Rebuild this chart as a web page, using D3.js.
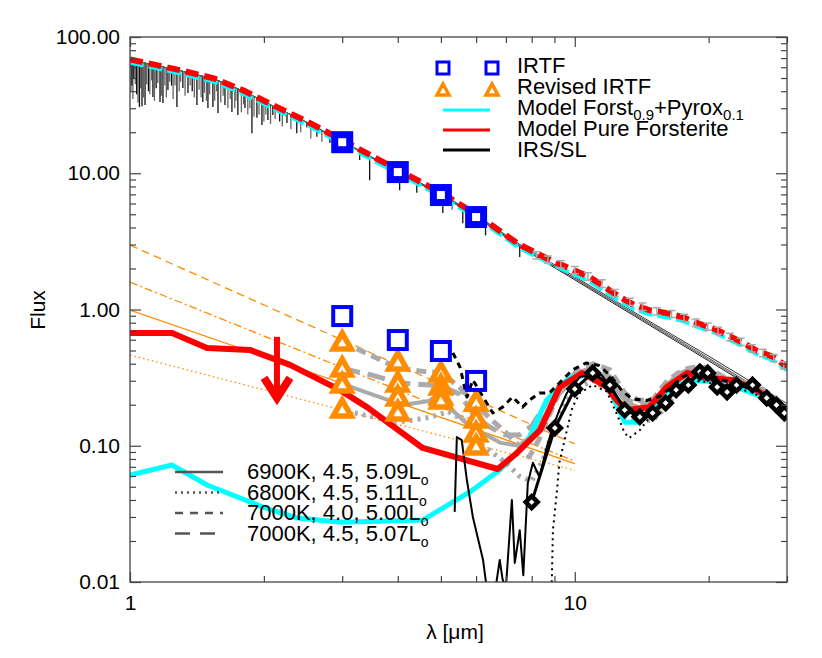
<!DOCTYPE html>
<html>
<head>
  <meta charset="UTF-8">
  <title>Flux SED</title>
  <script src="https://d3js.org/d3.v7.min.js"></script>
  <style>
    body { margin: 0; background: #fff; }
    text { font-family: "Liberation Sans", Arial, sans-serif; fill: #000; }
  </style>
</head>
<body>
<svg id="chart" width="822" height="658"></svg>
<script>

// ---- data (wavelength in micron, flux) ----

// photosphere models (4 fits)
const photoL = [1, 1.1, 1.3, 1.55, 1.8, 2.1, 2.5, 3, 4, 5, 6, 7.5, 10, 15, 20, 30];
const photoA = [68, 63.5, 56.5, 49, 40, 31, 23.5, 17, 10.2, 6.9, 4.8, 2.9, 1.65, 0.74, 0.42, 0.186];
const photoB = [68, 63.5, 56.5, 49, 40, 31, 23.6, 17.1, 10.3, 7.0, 4.87, 2.96, 1.70, 0.77, 0.44, 0.195];
const photoC = [68, 63.5, 56.5, 49, 40, 31, 23.7, 17.2, 10.4, 7.1, 4.95, 3.02, 1.74, 0.79, 0.455, 0.204];
const photoD = [68, 63.5, 56.5, 49, 40, 31, 23.5, 17.0, 10.25, 6.95, 4.84, 2.93, 1.68, 0.755, 0.43, 0.19];

// absorption lines in the stellar spectrum (line centre, flux at line bottom)
const lineL = [1.01, 1.02, 1.035, 1.05, 1.064, 1.081, 1.1, 1.126, 1.145, 1.168, 1.186, 1.217, 1.24, 1.275, 1.315, 1.35,
               1.38, 1.414, 1.458, 1.497, 1.536, 1.577, 1.635, 1.695, 1.748, 1.813, 1.88, 1.929, 1.98, 2.042, 2.095,
               2.17, 2.254, 2.371, 2.498, 2.631, 2.815, 3.12, 3.284, 3.458, 3.74, 4.039, 4.413, 5.05, 5.6, 6.3, 7.52];
const lineV = [44, 50, 38, 30.6, 31, 31.7, 40, 36.3, 42, 33.3, 32.8, 40.8, 44, 30.6, 42.2, 38.8,
               40, 31.7, 33.3, 30.1, 30.6, 27.7, 31.7, 28.2, 26.8, 30.1, 19.7, 25.5, 22.6, 24.6, 26.8,
               24, 23.4, 19.7, 21.8, 18.5, 16.7, 14.8, 12.5, 8.9, 11, 7.5, 7.2, 5.1, 4.3, 3.5, 2.43];
// weaker lines (drawn gray)
const weakL = [1.005, 1.015, 1.028, 1.042, 1.057, 1.072, 1.09, 1.108, 1.118, 1.135, 1.155, 1.176, 1.198, 1.207, 1.228,
               1.25, 1.262, 1.29, 1.30, 1.33, 1.365, 1.395, 1.43, 1.445, 1.47, 1.485, 1.51, 1.55, 1.565, 1.6, 1.62,
               1.66, 1.68, 1.72, 1.73, 1.78, 1.8, 1.84, 1.86, 1.9, 1.95, 2.0, 2.02, 2.07, 2.12, 2.2, 2.3, 2.42,
               2.55, 2.7, 2.9, 3.0, 3.6, 4.2, 4.8, 5.3];
const weakV = [40, 35, 45, 33, 42, 36, 45, 38, 48, 34, 46, 37, 44, 36, 47,
               35, 44, 40, 47, 37, 44, 36, 41, 36, 39, 34, 38, 34, 40, 33, 37,
               30, 35, 30, 34, 28, 32, 27, 30, 26, 27, 24, 27, 23, 25, 22, 21, 20,
               18, 17, 15, 15.5, 12, 8.5, 6.4, 5.4];

// photosphere + dust models (top)
const totL = [1, 1.1, 1.3, 1.55, 1.8, 2.1, 2.5, 3, 4, 5, 6, 7.5, 8.8, 10.8, 12.6, 13.6, 14.7, 16.1, 17.5, 18.8, 20.8, 23.9, 25.6, 27.9, 30];
const totForst = [68.5, 64, 57, 49.5, 40.5, 31.5, 24, 17.5, 10.6, 7.2, 5.0, 3.0, 2.31, 1.73, 1.24, 1.08, 0.99, 0.94, 0.88, 0.80, 0.71, 0.57, 0.50, 0.45, 0.38];
const totMix = [67, 62.8, 55.8, 48.3, 39.5, 30.8, 23.4, 17.0, 10.3, 7.0, 4.87, 2.93, 2.25, 1.66, 1.19, 1.04, 0.955, 0.905, 0.85, 0.775, 0.69, 0.555, 0.487, 0.44, 0.37];

// IRS points with errors (top)
const irsL = [8.2, 8.7, 9.3, 10.0, 10.7, 11.5, 12.3, 13.3, 14.2, 15.3, 16.5, 17.6, 18.7, 19.9, 21.0, 22.3, 23.6, 25.0, 26.5, 28.0, 29.5];
const irsV = [2.5, 2.33, 2.15, 1.95, 1.75, 1.55, 1.32, 1.14, 1.05, 0.97, 0.93, 0.87, 0.80, 0.75, 0.70, 0.63, 0.58, 0.52, 0.48, 0.44, 0.39];
const irsE = [0.15, 0.14, 0.13, 0.12, 0.11, 0.1, 0.08, 0.07, 0.065, 0.06, 0.055, 0.052, 0.05, 0.045, 0.042, 0.04, 0.035, 0.032, 0.03, 0.027, 0.024];

// power-law fits to the excess
const fitL = [1, 10];
const fitDash = [2.97, 0.103];
const fitDashDot = [1.59, 0.077];
const fitSolid = [0.99, 0.074];
const fitDot = [0.463, 0.066];

// dust models (excess)
const forstL = [1.0, 1.243, 1.49, 1.86, 2.29, 2.96, 3.41, 4.55, 6.71, 7.41, 8.35, 9.25, 10.4, 11.8, 12.4, 13.1, 14.7, 16.1, 17.9, 19.8, 22.6, 25.6, 30];
const forstV = [0.672, 0.672, 0.521, 0.505, 0.392, 0.257, 0.192, 0.0963, 0.0675, 0.0885, 0.13, 0.27, 0.342, 0.27, 0.217, 0.183, 0.192, 0.27, 0.342, 0.314, 0.304, 0.257, 0.183];
const mixL = [1.0, 1.243, 1.49, 1.99, 2.37, 3.01, 4.55, 5.81, 6.78, 7.8, 8.65, 9.75, 10.8, 11.8, 12.4, 12.95, 13.8, 14.7, 16.1, 17.7, 18.8, 21.2, 23.4, 26, 30];
const mixV = [0.061, 0.0722, 0.0515, 0.0355, 0.0295, 0.0275, 0.0285, 0.0458, 0.0664, 0.105, 0.217, 0.32, 0.33, 0.29, 0.2, 0.149, 0.149, 0.177, 0.25, 0.294, 0.30, 0.294, 0.265, 0.232, 0.174];

// IRTF photometry
const irtfL = [3, 4, 5, 6];
const irtfTop = [16.9, 10.2, 6.92, 4.77];
const irtfLow = [0.895, 0.597, 0.496, 0.299];
// revised IRTF, one row per photosphere model
const revA = [0.577, 0.412, 0.342, 0.209];
const revB = [0.372, 0.289, 0.275, 0.157];
const revC = [0.284, 0.228, 0.232, 0.124];
const revD = [0.186, 0.177, 0.217, 0.0995];

// IRS/SL excess (diamonds)
const slL = [8.0, 9.02, 10.0, 10.97, 11.99, 12.95, 14.0, 14.96, 16.0, 16.9, 18.0, 19.1, 19.9, 20.9, 22.0, 23.1, 25.1, 27.0, 28.4, 29.6];
const slV = [0.0386, 0.135, 0.261, 0.342, 0.279, 0.183, 0.163, 0.174, 0.206, 0.257, 0.279, 0.348, 0.342, 0.27, 0.248, 0.279, 0.279, 0.224, 0.199, 0.174];

// excess using each photosphere: revised IRTF + IRS (gray)
const gDashL = [3, 4, 4.6, 5, 5.5, 6, 6.5, 7, 7.5, 7.9, 8.3, 8.7, 9.2, 10, 11, 12, 13, 14, 15, 16, 17, 18, 19, 20, 22, 24, 26, 28, 30];
const gDashV = [0.577, 0.372, 0.35, 0.345, 0.27, 0.2, 0.155, 0.125, 0.1, 0.083, 0.11, 0.16, 0.24, 0.34, 0.40, 0.36, 0.24, 0.215, 0.22, 0.29, 0.34, 0.37, 0.38, 0.37, 0.31, 0.30, 0.27, 0.23, 0.19];
const gLongL = [3, 3.5, 4, 5, 5.5, 6, 6.5, 7, 7.5, 8, 8.5, 9, 10, 11, 12, 13, 14, 15, 16, 17, 18, 19, 20, 22, 24, 26, 28, 30];
const gLongV = [0.37, 0.33, 0.29, 0.275, 0.24, 0.16, 0.135, 0.12, 0.12, 0.14, 0.19, 0.26, 0.33, 0.38, 0.32, 0.22, 0.2, 0.21, 0.27, 0.33, 0.36, 0.36, 0.34, 0.30, 0.29, 0.26, 0.22, 0.185];
const gSolidL = [3, 4.1, 4.7, 5.0, 5.3, 5.7, 6.2, 6.8, 7.5, 8, 8.5, 9, 10, 11, 12, 13, 14, 15, 16, 17, 18, 19, 20, 22, 24, 26, 28, 30];
const gSolidV = [0.284, 0.199, 0.213, 0.244, 0.183, 0.147, 0.124, 0.105, 0.1, 0.12, 0.16, 0.22, 0.31, 0.36, 0.30, 0.21, 0.19, 0.20, 0.25, 0.31, 0.34, 0.34, 0.32, 0.29, 0.28, 0.25, 0.21, 0.18];
const gDotL = [3.2, 3.6, 4, 4.7, 5.2, 5.7, 6, 6.5, 7, 7.5, 8, 8.5, 9, 9.5, 10, 11, 12, 13, 14, 15, 16, 17, 18, 19, 20, 22, 24, 26, 28, 30];
const gDotV = [0.174, 0.16, 0.149, 0.161, 0.178, 0.15, 0.11, 0.09, 0.075, 0.06, 0.055, 0.08, 0.14, 0.2, 0.26, 0.3, 0.25, 0.17, 0.15, 0.155, 0.19, 0.25, 0.3, 0.32, 0.31, 0.28, 0.27, 0.24, 0.2, 0.17];

// excess using each photosphere: IRS spectrum (black)
const bDashL = [5.32, 5.52, 5.72, 5.9, 6.22, 6.54, 6.88, 7.25, 7.63, 7.92, 8.33, 8.77, 9.23, 9.88, 10.6, 11.3, 12, 12.8, 13.5, 14.5, 15.5, 16.5, 17.5, 18.5, 19.5, 21, 23, 25, 27, 30];
const bDashV = [0.48, 0.378, 0.228, 0.304, 0.228, 0.174, 0.192, 0.228, 0.192, 0.217, 0.244, 0.244, 0.289, 0.36, 0.405, 0.39, 0.33, 0.25, 0.22, 0.215, 0.23, 0.27, 0.32, 0.35, 0.36, 0.31, 0.285, 0.28, 0.23, 0.18];
const bDotL = [8.8, 8.88, 8.93, 9.12, 9.23, 9.6, 9.88, 10.27, 10.97, 11.8, 12.4, 12.95, 13.25, 14.0, 15.5, 17.2, 19.1, 21, 23, 25, 27, 30];
const bDotV = [0.006, 0.0105, 0.024, 0.047, 0.075, 0.13, 0.192, 0.244, 0.279, 0.25, 0.174, 0.124, 0.114, 0.13, 0.2, 0.265, 0.30, 0.28, 0.26, 0.25, 0.21, 0.17];
const bSolidL = [5.37, 5.43, 5.57, 5.72, 5.9, 6.22, 6.34, 6.6, 6.78, 6.88, 7.0, 7.22, 7.33, 7.52, 7.66, 7.84, 8.05, 8.33, 8.65, 8.93, 9.23, 9.6, 10.27, 10.8,
                 11.5, 12.3, 13, 14, 15, 16, 17, 18, 19, 20, 22, 24, 26, 28, 30];
const bSolidV = [0.0327, 0.116, 0.11, 0.056, 0.030, 0.0145, 0.009, 0.008, 0.0145, 0.0105, 0.009, 0.04, 0.0138, 0.024, 0.0112, 0.053, 0.075, 0.059, 0.098, 0.137, 0.183, 0.244, 0.32, 0.33,
                 0.33, 0.24, 0.19, 0.17, 0.18, 0.22, 0.27, 0.3, 0.34, 0.33, 0.27, 0.27, 0.25, 0.21, 0.175];

// upper limit arrow
const ulL = 2.14, ulTop = 0.63, ulBot = 0.21;

// legends
const legTop = ["IRTF", "Revised IRTF", "Model Forst", "Model Pure Forsterite", "IRS/SL"];
const legModels = ["6900K, 4.5, 5.09L", "6800K, 4.5, 5.11L", "7000K, 4.0, 5.00L", "7000K, 4.5, 5.07L"];

// ---- drawing ----
const svg = d3.select("#chart");
const pLeft = 130, pRight = 787, pTop = 37, pBottom = 582;

const x = d3.scaleLog().domain([1, 30]).range([pLeft, pRight]);
const y = d3.scaleLog().domain([0.01, 100]).range([pBottom, pTop]);

svg.append("clipPath").attr("id", "plotclip")
   .append("rect").attr("x", pLeft).attr("y", pTop)
   .attr("width", pRight - pLeft).attr("height", pBottom - pTop);

const plot = svg.append("g").attr("clip-path", "url(#plotclip)");

const line = d3.line().x(d => x(d[0])).y(d => y(d[1]));

function drawLine(L, V, color, width, dash, g) {
    return (g || plot).append("path")
        .datum(d3.zip(L, V))
        .attr("d", line)
        .attr("fill", "none")
        .attr("stroke", color)
        .attr("stroke-width", width)
        .attr("stroke-dasharray", dash || null)
        .attr("stroke-linejoin", "round");
}

// stellar spectrum with absorption lines
const cont = d3.scaleLog().domain(photoL).range(photoA.map(Math.log10));
function drawAbsorption(L, V, color) {
    plot.append("g").selectAll("line").data(d3.zip(L, V)).join("line")
        .attr("x1", d => x(d[0])).attr("x2", d => x(d[0]))
        .attr("y1", d => y(Math.pow(10, cont(d[0]))))
        .attr("y2", d => y(d[1]))
        .attr("stroke", color)
        .attr("stroke-width", 1.3);
}
drawAbsorption(weakL, weakV, "#666");
drawAbsorption(lineL, lineV, "#111");

// photospheres
[[photoA, "#222"], [photoB, "#555"], [photoC, "#333"], [photoD, "#666"]].forEach(p => {
    drawLine(photoL, p[0], p[1], 1);
});

// power-law fits
const orange = "#ff8c00";
drawLine(fitL, fitDash, orange, 1.3, "8,5");
drawLine(fitL, fitDashDot, orange, 1.3, "8,3,2,3");
drawLine(fitL, fitSolid, orange, 1.3);
drawLine(fitL, fitDot, orange, 1.3, "1.5,3");

// total models (top)
const shifted = plot.append("g").attr("transform", "translate(0,2)");
drawLine(totL, totMix, "#00ffff", 4, "14,5", shifted);
drawLine(totL, totForst, "#ff0000", 6, "13,6");

// IRS points with error bars (top)
const eb = plot.append("g").attr("stroke", "#aaa").attr("stroke-width", 1.5).attr("fill", "none");
d3.zip(irsL, irsV, irsE).forEach(d => {
    const xx = x(d[0]), y1 = y(d[1] + d[2]), y2 = y(d[1] - d[2]);
    eb.append("path").attr("d", `M${xx},${y1}V${y2}M${xx - 4},${y1}H${xx + 4}M${xx - 4},${y2}H${xx + 4}`);
});

// gray excess lines
const gray = "#aaaaaa";
drawLine(gDotL, gDotV, gray, 5, "3,5");
drawLine(gSolidL, gSolidV, gray, 4);
drawLine(gLongL, gLongV, gray, 5, "18,8");
drawLine(gDashL, gDashV, gray, 5, "10,6");

// dust models
drawLine(mixL, mixV, "#00ffff", 5);
drawLine(forstL, forstV, "#ff0000", 6);

// black excess lines
drawLine(bSolidL, bSolidV, "#000", 2);
drawLine(bDotL, bDotV, "#000", 2, "2,4");
drawLine(bDashL, bDashV, "#000", 3, "6,5");
drawLine(slL, slV, "#000", 3);

// diamonds
plot.append("g").selectAll("path").data(d3.zip(slL, slV)).join("path")
    .attr("transform", d => `translate(${x(d[0])},${y(d[1])})`)
    .attr("d", "M0,-6L6,0L0,6L-6,0Z")
    .attr("fill", "#fff").attr("stroke", "#000").attr("stroke-width", 4.5);

// upper limit arrow
const ax = x(ulL);
plot.append("path")
    .attr("d", `M${ax},${y(ulTop)}V${y(ulBot) - 6}`)
    .attr("stroke", "#ff0000").attr("stroke-width", 6).attr("fill", "none");
plot.append("path")
    .attr("d", `M${ax - 13},${y(ulBot) - 24}L${ax},${y(ulBot) - 4}L${ax + 13},${y(ulBot) - 24}`)
    .attr("stroke", "#ff0000").attr("stroke-width", 8).attr("fill", "none");

// revised IRTF triangles
const tri = "M0,-9L9,7L-9,7Z";
[revA, revB, revC, revD].forEach(r => {
    plot.append("g").selectAll("path").data(d3.zip(irtfL, r)).join("path")
        .attr("transform", d => `translate(${x(d[0])},${y(d[1])})`)
        .attr("d", tri)
        .attr("fill", "#fff").attr("stroke", orange).attr("stroke-width", 5.5)
        .attr("stroke-linejoin", "miter");
});

// IRTF squares
plot.append("g").selectAll("rect").data(d3.zip(irtfL, irtfTop)).join("rect")
    .attr("x", d => x(d[0]) - 7.5).attr("y", d => y(d[1]) - 7.5)
    .attr("width", 15).attr("height", 15)
    .attr("fill", "#fff").attr("stroke", "#0000ff").attr("stroke-width", 7);
plot.append("g").selectAll("rect").data(d3.zip(irtfL, irtfLow)).join("rect")
    .attr("x", d => x(d[0]) - 9).attr("y", d => y(d[1]) - 9)
    .attr("width", 18).attr("height", 18)
    .attr("fill", "none").attr("stroke", "#0000ff").attr("stroke-width", 4);

// ---- axes ----
const axisColor = "#444";
const majX = [1, 10], minX = [2, 3, 4, 5, 6, 7, 8, 9, 20, 30];
const majY = [0.01, 0.1, 1, 10, 100];
const minY = [];
[0.01, 0.1, 1, 10].forEach(dec => { for (let k = 2; k <= 9; k++) minY.push(dec * k); });

function styleAxis(g) {
    g.select(".domain").remove();
    g.selectAll("line").attr("stroke", axisColor).attr("stroke-width", 1.2);
    g.selectAll("text").attr("font-size", 21).attr("fill", "#000")
     .style("font-family", "'Liberation Sans', Arial, sans-serif");
}

svg.append("g").attr("transform", `translate(0,${pBottom})`)
   .call(d3.axisBottom(x).tickValues(majX).tickSize(-10).tickPadding(13).tickFormat(d3.format("d")))
   .call(styleAxis);
svg.append("g").attr("transform", `translate(0,${pBottom})`)
   .call(d3.axisBottom(x).tickValues(minX).tickSize(-6).tickFormat(""))
   .call(styleAxis);
svg.append("g").attr("transform", `translate(0,${pTop})`)
   .call(d3.axisTop(x).tickValues(majX).tickSize(-10).tickFormat(""))
   .call(styleAxis);
svg.append("g").attr("transform", `translate(0,${pTop})`)
   .call(d3.axisTop(x).tickValues(minX).tickSize(-6).tickFormat(""))
   .call(styleAxis);

svg.append("g").attr("transform", `translate(${pLeft},0)`)
   .call(d3.axisLeft(y).tickValues(majY).tickSize(-11).tickPadding(10).tickFormat(d3.format(".2f")))
   .call(styleAxis);
svg.append("g").attr("transform", `translate(${pLeft},0)`)
   .call(d3.axisLeft(y).tickValues(minY).tickSize(-6).tickFormat(""))
   .call(styleAxis);
svg.append("g").attr("transform", `translate(${pRight},0)`)
   .call(d3.axisRight(y).tickValues(majY).tickSize(-11).tickFormat(""))
   .call(styleAxis);
svg.append("g").attr("transform", `translate(${pRight},0)`)
   .call(d3.axisRight(y).tickValues(minY).tickSize(-6).tickFormat(""))
   .call(styleAxis);

svg.append("rect").attr("x", pLeft).attr("y", pTop)
   .attr("width", pRight - pLeft).attr("height", pBottom - pTop)
   .attr("fill", "none").attr("stroke", axisColor).attr("stroke-width", 1.3);

// axis titles
svg.append("text").text("λ [μm]")
   .attr("x", 455).attr("y", 639).attr("text-anchor", "middle").attr("font-size", 21);
svg.append("text").text("Flux")
   .attr("transform", "translate(45,310) rotate(-90)")
   .attr("text-anchor", "middle").attr("font-size", 21);

// ---- top legend ----
const lx1 = 443, lx2 = 492, tx = 517;
[lx1, lx2].forEach(px => {
    svg.append("rect").attr("x", px - 6).attr("y", 62).attr("width", 12).attr("height", 12)
       .attr("fill", "none").attr("stroke", "#0000ff").attr("stroke-width", 3);
    svg.append("path").attr("transform", `translate(${px},90)`).attr("d", "M0,-6L6,5L-6,5Z")
       .attr("fill", "none").attr("stroke", orange).attr("stroke-width", 3.5);
});
[["#00ffff", 110], ["#ff0000", 130], ["#000", 150]].forEach(d => {
    svg.append("line").attr("x1", lx1).attr("x2", lx2 - 2).attr("y1", d[1]).attr("y2", d[1])
       .attr("stroke", d[0]).attr("stroke-width", 3);
});
const tl = svg.append("g").attr("font-size", 22);
tl.append("text").attr("x", tx).attr("y", 73).text(legTop[0]);
tl.append("text").attr("x", tx).attr("y", 94).text(legTop[1]);
const forstText = tl.append("text").attr("x", tx).attr("y", 115);
forstText.append("tspan").text(legTop[2]);
forstText.append("tspan").text("0.9").attr("font-size", 15).attr("dy", 5);
forstText.append("tspan").text("+Pyrox").attr("dy", -5);
forstText.append("tspan").text("0.1").attr("font-size", 15).attr("dy", 5);
tl.append("text").attr("x", tx).attr("y", 136).text(legTop[3]);
tl.append("text").attr("x", tx).attr("y", 157).text(legTop[4]);

// ---- model legend ----
const mdash = [null, "2,4", "8,7", "15,10"];
legModels.forEach((s, i) => {
    const yy = 472 + i * 20.5;
    svg.append("line").attr("x1", 175).attr("x2", 223).attr("y1", yy).attr("y2", yy)
       .attr("stroke", "#555").attr("stroke-width", 2.5).attr("stroke-dasharray", mdash[i]);
    const t = svg.append("text").attr("x", 247).attr("y", yy + 7).attr("font-size", 22);
    t.append("tspan").text(s);
    t.append("tspan").text("o").attr("font-size", 14).attr("dy", 6);
});

</script>
</body>
</html>
